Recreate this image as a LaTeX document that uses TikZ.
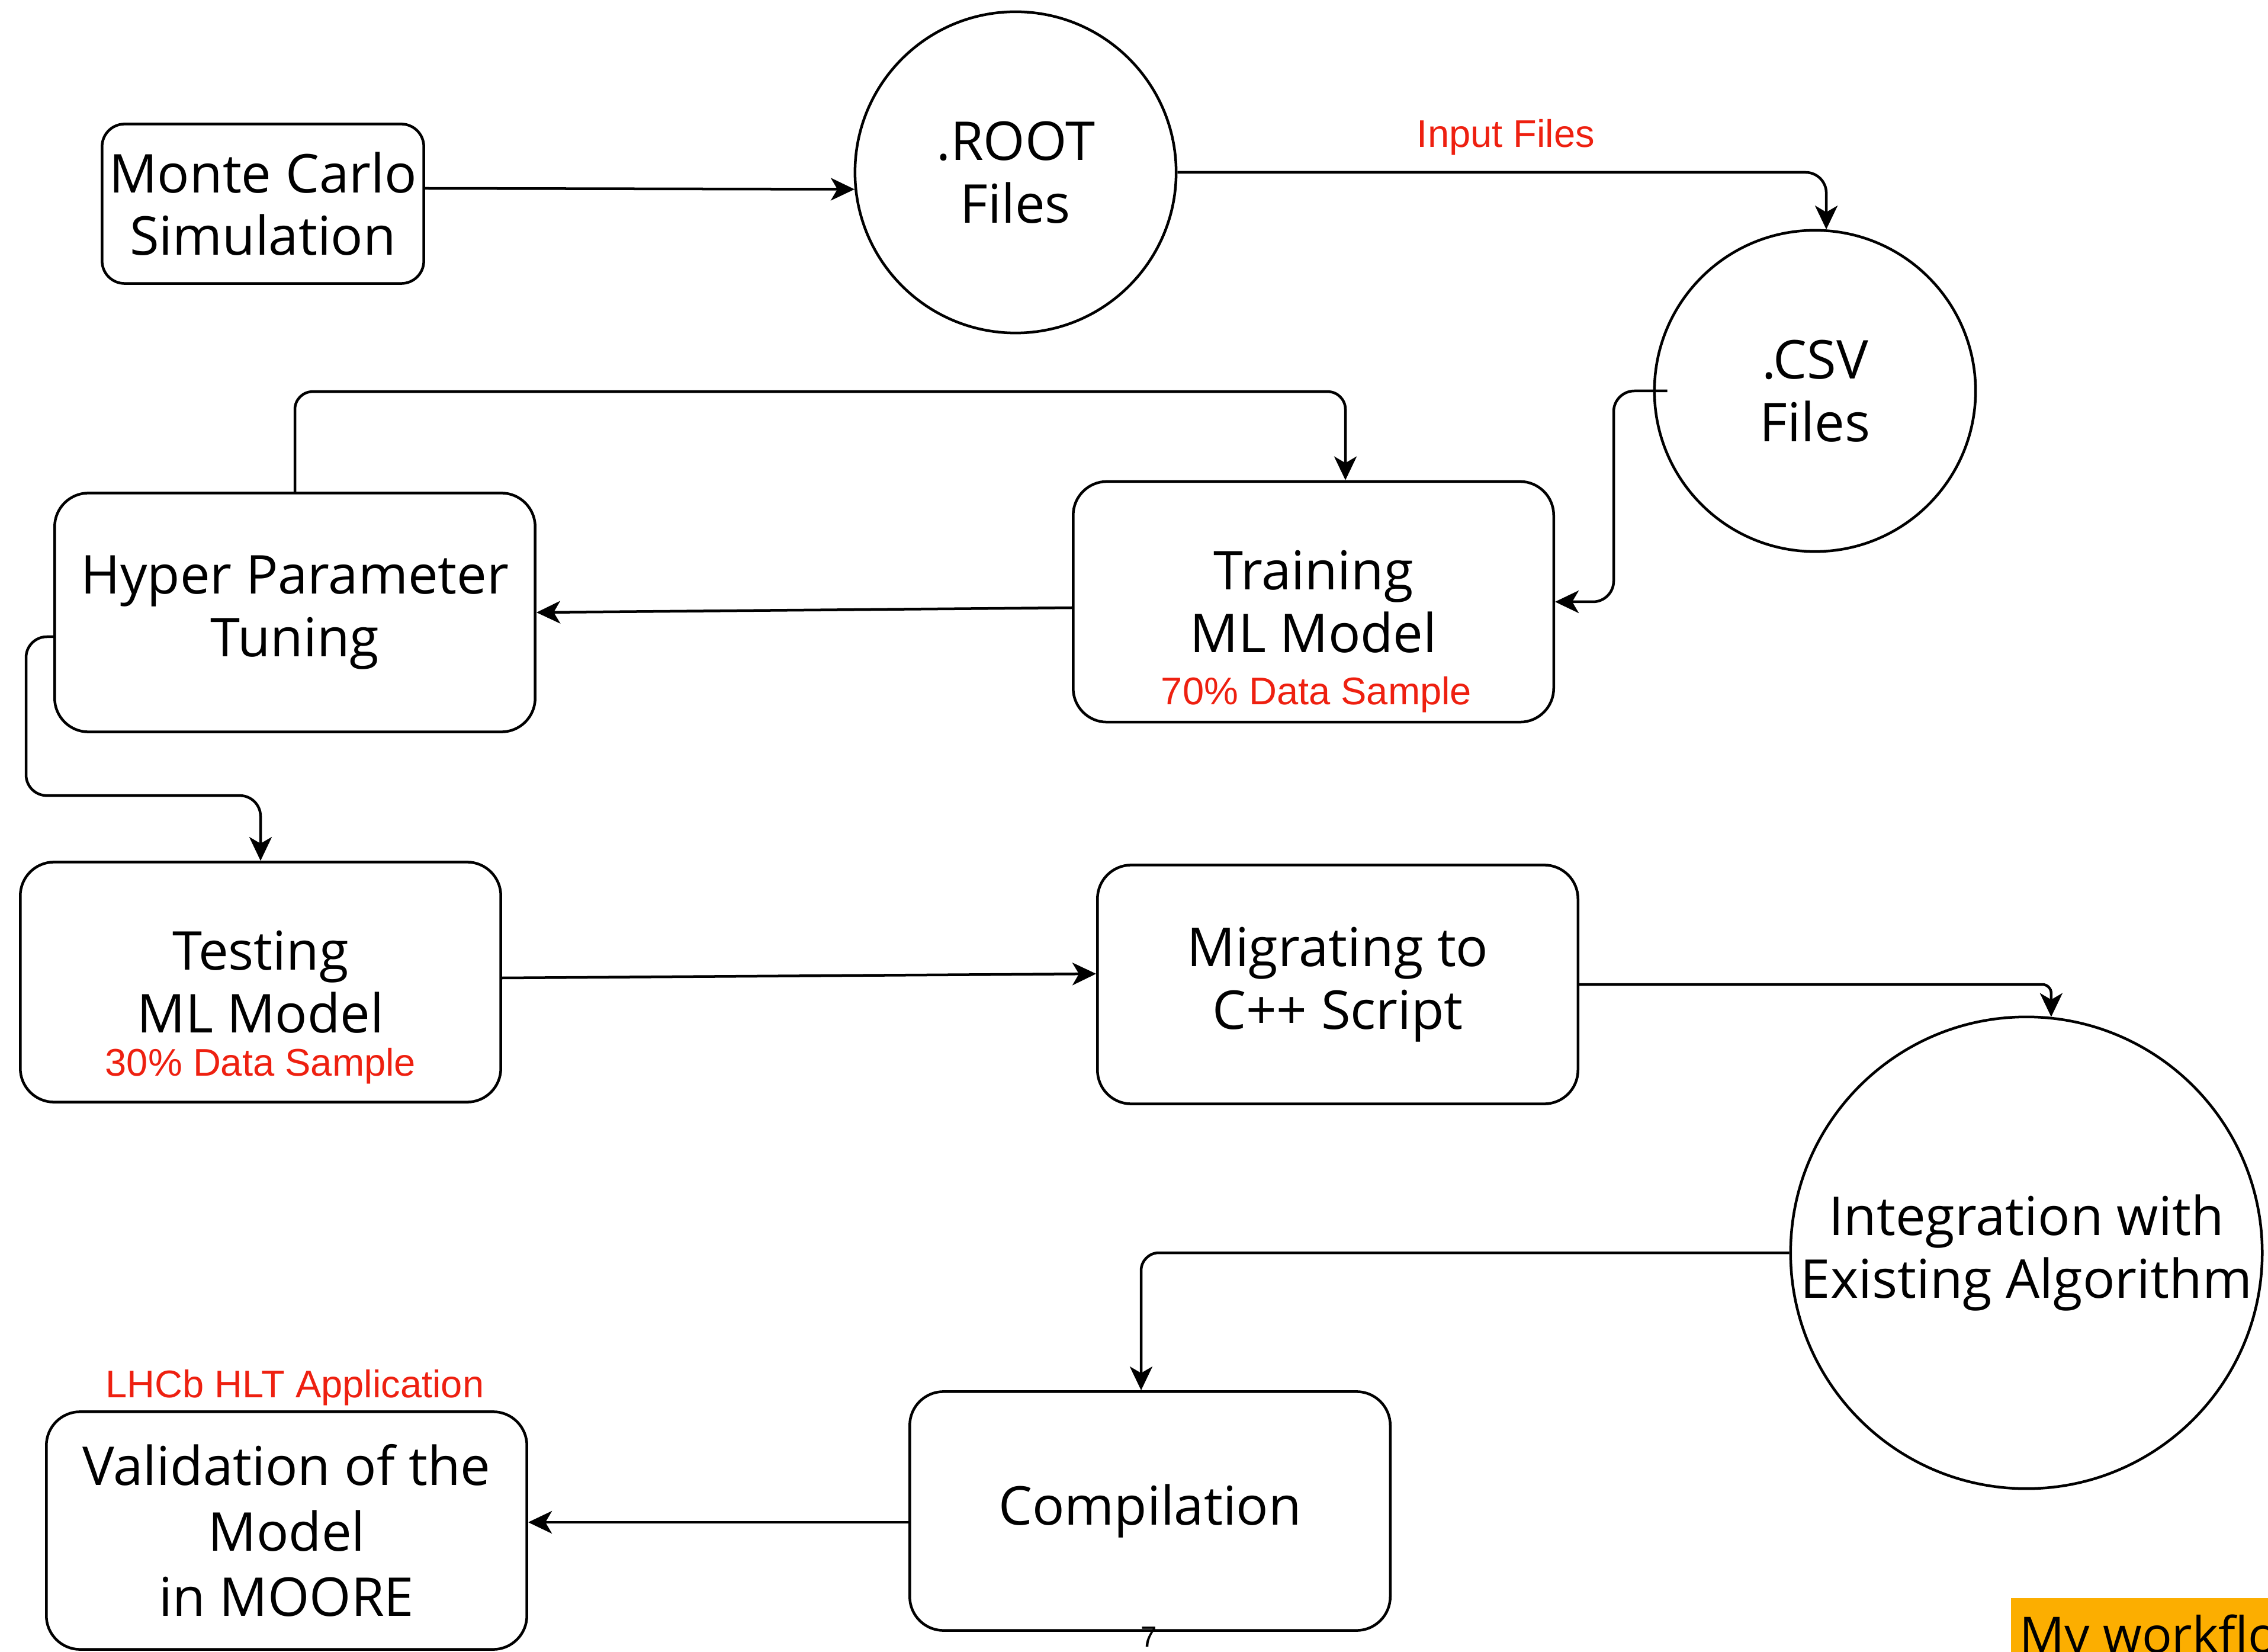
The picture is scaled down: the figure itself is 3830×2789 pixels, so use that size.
\documentclass[tikz,border=0pt]{standalone}
\usepackage{fontspec}
\setmainfont{Open Sans}
\newfontfamily\redf{Liberation Sans}
\usetikzlibrary{arrows.meta,calc}
\definecolor{redtxt}{RGB}{238,32,16}
\definecolor{orangebg}{RGB}{252,174,0}
\begin{document}
\begin{tikzpicture}[x=0.01cm,y=-0.01cm,
  lw/.style={line width=0.045cm},
  box/.style={draw, lw, rounded corners=0.57cm, minimum width=8.11cm, minimum height=4.03cm,
    align=center, inner sep=0pt, font=\fontsize{25.7}{30}\selectfont},
  circ/.style={draw, lw, circle, inner sep=0pt, align=center, font=\fontsize{25.7}{30}\selectfont},
  redlbl/.style={text=redtxt, inner sep=0pt, font=\redf\fontsize{18.5}{21}\selectfont},
  arr/.style={lw, -{Stealth[length=0.4cm,width=0.38cm,inset=0.11cm]}}]
\useasboundingbox (0,0) rectangle (3830,2789);
\clip (0,0) rectangle (3830,2789);
\fill[white] (0,0) rectangle (3830,2789);

% nodes
\node[box, minimum width=5.43cm, minimum height=2.69cm, rounded corners=0.38cm] (mc) at (444,344) {Monte Carlo\\Simulation};
\node[circ, minimum size=5.42cm] (root) at (1715,291) {.ROOT\\Files};
\node[circ, minimum size=5.42cm] (csv) at (3065,660) {.CSV\\Files};
\node[box] (hp) at (498,1034) {Hyper Parameter\\Tuning};
\node[box, minimum height=4.06cm] (tr) at (2218,1016) {Training\\ML Model};
\node[redlbl] (trl) at (2223,1173) {70\% Data Sample};
\node[box, minimum height=4.05cm] (ts) at (440,1658) {Testing\\ML Model};
\node[redlbl] (tsl) at (440,1800) {30\% Data Sample};
\node[box] (mg) at (2259,1662) {Migrating to\\C++ Script};
\node[circ, minimum size=7.96cm] (ig) at (3422,2115) {Integration with\\Existing Algorithm};
\node[box] (cp) at (1942,2551) {\raisebox{-0.07cm}{Compilation}};
\node[box, minimum height=4.01cm, font=\fontsize{25.7}{31.5}\selectfont] (vl) at (484,2584) {Validation of the\\Model\\in MOORE};
\node[redlbl] (lhcb) at (498,2343) {LHCb HLT Application};
\node[redlbl] (inp) at (2543,232) {Input Files};
\node[anchor=base, inner sep=0pt, font=\redf\fontsize{14}{16}\selectfont] (pg) at (1940,2780) {7};
\node[fill=orangebg, anchor=north west, minimum width=6cm, minimum height=1.5cm] (wfbox) at (3395,2697) {};
\node[anchor=base west, inner sep=0pt, font=\fontsize{24}{28}\selectfont] (wf) at (3410,2790) {My workflow};

% connectors
\draw[arr] ($(mc.east)+(0,-26)$) -- (root.186);
\draw[arr, rounded corners=0.35cm] (root.east) -| (csv.86);
\draw[arr, rounded corners=0.35cm] ($(csv.west)+(24,0)$) -| ($(tr.east)+(99,0)$) -- (tr.east);
\draw[arr] ($(tr.west)+(0,10)$) -- (hp.east);
\draw[arr, rounded corners=0.3cm] (hp.north) -- ++(0,-169) -| ($(tr.north)+(54,0)$);
\draw[arr, rounded corners=0.35cm] ($(hp.west)+(0,41)$) -- ++(-46,0) |- ($(ts.north)+(0,-110)$) -- (ts.north);
\draw[arr] ($(ts.east)+(0,-7)$) -- ($(mg.west)+(0,-18)$);
\draw[arr, rounded corners=0.15cm] (mg.east) -| (ig.84);
\draw[arr, rounded corners=0.3cm] (ig.west) -| ($(cp.north)+(-15,0)$);
\coordinate (cj) at ($(cp.west)+(0,19)$);
\draw[arr] (cj) -- (vl.east |- cj);
\end{tikzpicture}
\end{document}
